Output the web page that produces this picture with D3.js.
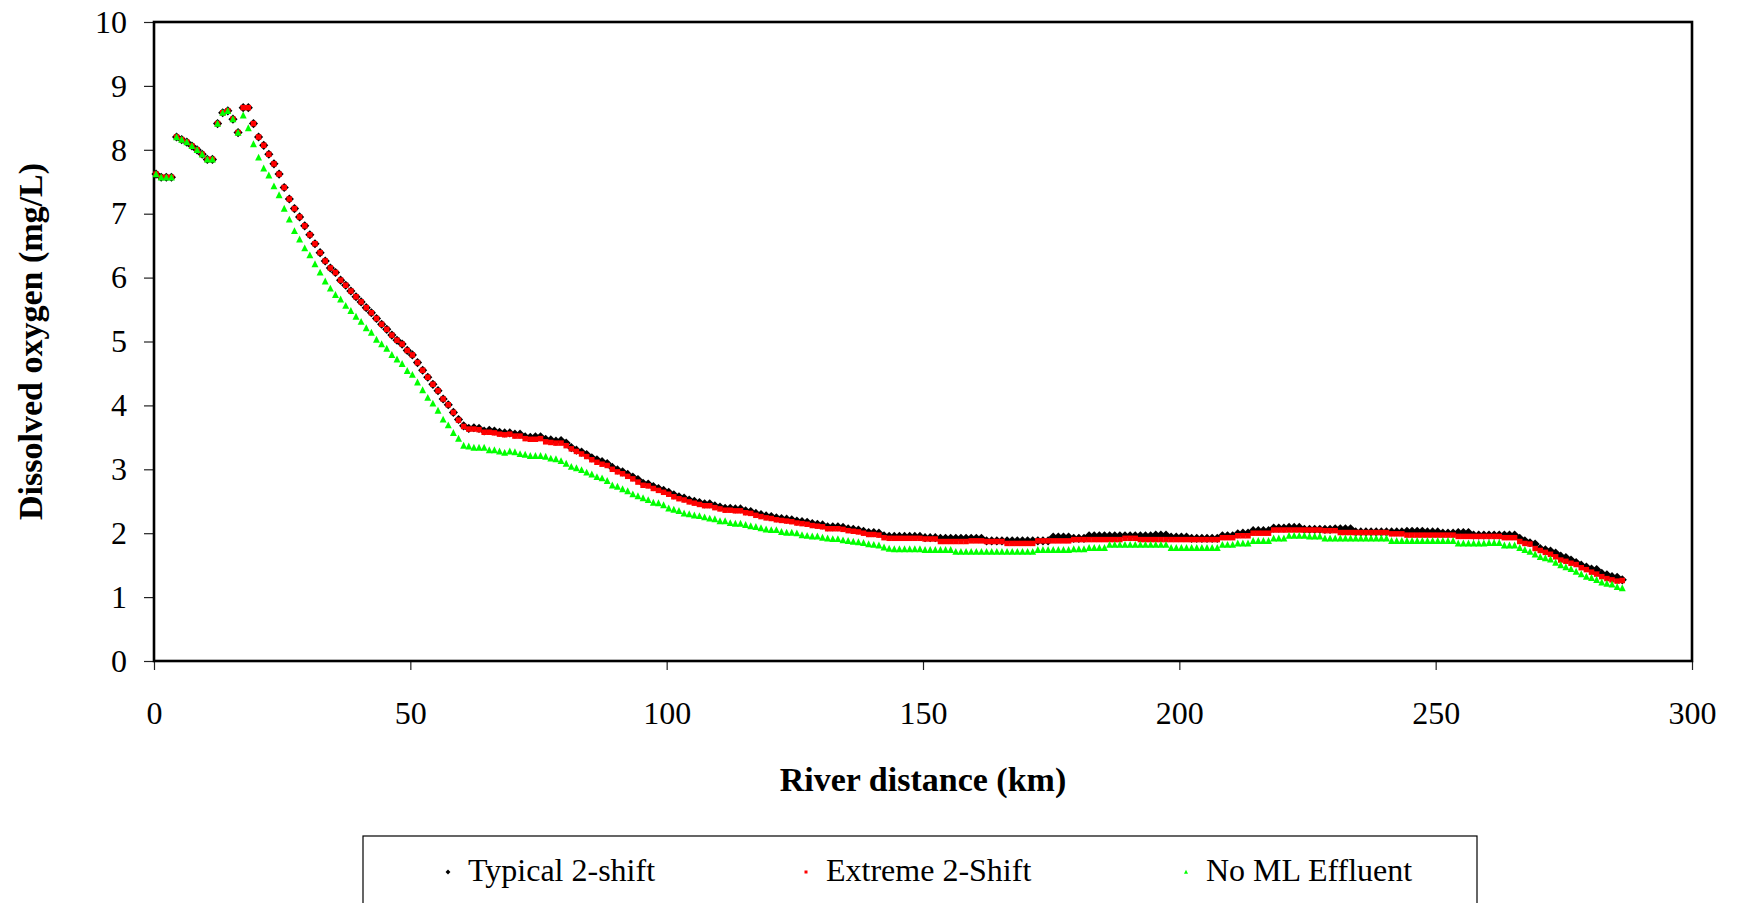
<!DOCTYPE html>
<html><head><meta charset="utf-8">
<script src="https://cdn.jsdelivr.net/npm/d3@7"></script>
<style>
body{margin:0;background:#fff;}
svg text{font-family:"Liberation Serif","Times New Roman",serif;fill:#000;}
</style>
</head><body>
<svg id="chart" width="1739" height="903"></svg>
<script>
// ---------------- data ----------------
const distanceKm = [
0.4,1.4,2.4,3.4,4.4,5.4,6.4,7.4,8.4,9.4,10.4,11.4,12.4,13.4,14.4,15.4,16.4,17.4,18.4,19.4,
20.4,21.4,22.4,23.4,24.4,25.4,26.4,27.4,28.4,29.4,30.4,31.4,32.4,33.4,34.4,35.4,36.4,37.4,38.4,39.4,
40.4,41.4,42.4,43.4,44.4,45.4,46.4,47.4,48.4,49.4,50.4,51.4,52.4,53.4,54.4,55.4,56.4,57.4,58.4,59.4,
60.4,61.4,62.4,63.4,64.4,65.4,66.4,67.4,68.4,69.4,70.4,71.4,72.4,73.4,74.4,75.4,76.4,77.4,78.4,79.4,
80.4,81.4,82.4,83.4,84.4,85.4,86.4,87.4,88.4,89.4,90.4,91.4,92.4,93.4,94.4,95.4,96.4,97.4,98.4,99.4,
100.4,101.4,102.4,103.4,104.4,105.4,106.4,107.4,108.4,109.4,110.4,111.4,112.4,113.4,114.4,115.4,116.4,117.4,118.4,119.4,
120.4,121.4,122.4,123.4,124.4,125.4,126.4,127.4,128.4,129.4,130.4,131.4,132.4,133.4,134.4,135.4,136.4,137.4,138.4,139.4,
140.4,141.4,142.4,143.4,144.4,145.4,146.4,147.4,148.4,149.4,150.4,151.4,152.4,153.4,154.4,155.4,156.4,157.4,158.4,159.4,
160.4,161.4,162.4,163.4,164.4,165.4,166.4,167.4,168.4,169.4,170.4,171.4,172.4,173.4,174.4,175.4,176.4,177.4,178.4,179.4,
180.4,181.4,182.4,183.4,184.4,185.4,186.4,187.4,188.4,189.4,190.4,191.4,192.4,193.4,194.4,195.4,196.4,197.4,198.4,199.4,
200.4,201.4,202.4,203.4,204.4,205.4,206.4,207.4,208.4,209.4,210.4,211.4,212.4,213.4,214.4,215.4,216.4,217.4,218.4,219.4,
220.4,221.4,222.4,223.4,224.4,225.4,226.4,227.4,228.4,229.4,230.4,231.4,232.4,233.4,234.4,235.4,236.4,237.4,238.4,239.4,
240.4,241.4,242.4,243.4,244.4,245.4,246.4,247.4,248.4,249.4,250.4,251.4,252.4,253.4,254.4,255.4,256.4,257.4,258.4,259.4,
260.4,261.4,262.4,263.4,264.4,265.4,266.4,267.4,268.4,269.4,270.4,271.4,272.4,273.4,274.4,275.4,276.4,277.4,278.4,279.4,
280.4,281.4,282.4,283.4,284.4,285.4,286.4
];

const typical2Shift = [
7.62,7.57,7.57,7.57,8.20,8.16,8.12,8.06,8.00,7.93,
7.85,7.85,8.41,8.58,8.61,8.48,8.27,8.66,8.66,8.41,
8.20,8.07,7.93,7.78,7.62,7.41,7.23,7.08,6.95,6.81,
6.67,6.53,6.39,6.26,6.15,6.08,5.96,5.88,5.79,5.70,
5.62,5.53,5.45,5.36,5.27,5.19,5.10,5.02,4.96,4.86,
4.79,4.67,4.55,4.44,4.33,4.23,4.10,4.01,3.89,3.78,
3.68,3.64,3.65,3.64,3.60,3.61,3.60,3.58,3.57,3.57,
3.55,3.55,3.51,3.50,3.51,3.51,3.47,3.46,3.44,3.45,
3.41,3.34,3.30,3.27,3.23,3.18,3.15,3.12,3.09,3.03,
2.99,2.96,2.92,2.88,2.84,2.78,2.77,2.73,2.70,2.67,
2.64,2.60,2.57,2.55,2.52,2.50,2.48,2.46,2.46,2.43,
2.41,2.39,2.39,2.38,2.38,2.35,2.34,2.31,2.29,2.27,
2.26,2.24,2.23,2.22,2.21,2.19,2.18,2.17,2.15,2.14,
2.13,2.10,2.10,2.10,2.09,2.07,2.06,2.05,2.03,2.01,
2.01,2.00,1.96,1.95,1.95,1.95,1.95,1.95,1.95,1.95,
1.93,1.93,1.93,1.92,1.92,1.92,1.92,1.92,1.92,1.92,
1.92,1.92,1.88,1.88,1.88,1.88,1.88,1.88,1.88,1.88,
1.88,1.88,1.88,1.88,1.88,1.94,1.94,1.94,1.94,1.92,
1.92,1.92,1.96,1.96,1.96,1.96,1.96,1.96,1.96,1.96,
1.96,1.96,1.96,1.96,1.96,1.97,1.97,1.97,1.94,1.94,
1.94,1.94,1.92,1.92,1.92,1.92,1.92,1.92,1.96,1.96,
1.96,1.99,2.00,2.00,2.04,2.04,2.04,2.04,2.08,2.08,
2.08,2.09,2.09,2.09,2.06,2.06,2.06,2.06,2.06,2.06,
2.07,2.07,2.07,2.07,2.02,2.02,2.02,2.02,2.02,2.02,
2.02,2.02,2.02,2.02,2.03,2.03,2.03,2.03,2.02,2.02,
2.02,2.00,2.00,2.00,2.01,2.01,2.01,1.97,1.97,1.97,
1.97,1.97,1.97,1.97,1.97,1.97,1.92,1.88,1.85,1.83,
1.76,1.74,1.72,1.69,1.64,1.62,1.58,1.54,1.50,1.47,
1.44,1.43,1.37,1.35,1.32,1.31,1.27
];

const extreme2Shift = [
7.62,7.57,7.57,7.57,8.20,8.16,8.12,8.06,8.00,7.93,
7.85,7.85,8.41,8.58,8.61,8.48,8.27,8.66,8.66,8.41,
8.20,8.07,7.93,7.78,7.62,7.41,7.23,7.08,6.95,6.81,
6.67,6.53,6.39,6.26,6.15,6.08,5.96,5.88,5.79,5.70,
5.62,5.53,5.45,5.36,5.27,5.19,5.10,5.02,4.96,4.86,
4.79,4.67,4.55,4.44,4.33,4.23,4.10,4.01,3.89,3.77,
3.67,3.63,3.63,3.62,3.58,3.58,3.57,3.55,3.54,3.55,
3.52,3.52,3.48,3.47,3.47,3.48,3.43,3.42,3.41,3.41,
3.37,3.32,3.28,3.24,3.20,3.15,3.11,3.08,3.06,3.00,
2.96,2.93,2.89,2.85,2.80,2.75,2.74,2.70,2.67,2.64,
2.61,2.57,2.54,2.52,2.49,2.47,2.45,2.43,2.43,2.40,
2.38,2.36,2.36,2.35,2.35,2.32,2.31,2.28,2.26,2.24,
2.23,2.21,2.20,2.19,2.18,2.16,2.15,2.14,2.12,2.11,
2.10,2.07,2.07,2.07,2.06,2.04,2.03,2.02,2.00,1.98,
1.98,1.97,1.93,1.92,1.92,1.92,1.92,1.92,1.92,1.92,
1.91,1.91,1.91,1.87,1.87,1.87,1.87,1.87,1.87,1.88,
1.88,1.88,1.87,1.87,1.87,1.87,1.84,1.84,1.84,1.84,
1.84,1.84,1.88,1.88,1.88,1.88,1.88,1.88,1.88,1.90,
1.90,1.90,1.90,1.90,1.90,1.90,1.90,1.90,1.90,1.92,
1.92,1.92,1.90,1.90,1.90,1.90,1.90,1.90,1.90,1.90,
1.90,1.90,1.90,1.90,1.90,1.90,1.90,1.90,1.93,1.93,
1.93,1.96,1.96,1.96,2.00,2.00,2.00,2.00,2.05,2.05,
2.05,2.05,2.05,2.05,2.05,2.05,2.05,2.05,2.04,2.04,
2.04,2.01,2.01,2.01,2.01,2.01,2.01,2.01,2.01,2.01,
2.01,1.99,1.99,1.99,1.97,1.97,1.97,1.97,1.97,1.97,
1.97,1.97,1.97,1.97,1.95,1.95,1.95,1.95,1.95,1.95,
1.95,1.95,1.95,1.93,1.93,1.93,1.87,1.84,1.83,1.76,
1.73,1.70,1.67,1.63,1.58,1.56,1.53,1.51,1.46,1.43,
1.39,1.36,1.32,1.29,1.27,1.25,1.26
];

const noMLEffluent = [
7.62,7.57,7.57,7.57,8.20,8.16,8.12,8.06,8.00,7.93,
7.85,7.85,8.41,8.58,8.61,8.48,8.27,8.54,8.34,8.09,
7.88,7.71,7.60,7.43,7.29,7.08,6.91,6.73,6.60,6.46,
6.35,6.21,6.08,5.94,5.83,5.73,5.66,5.56,5.48,5.39,
5.31,5.21,5.14,5.03,4.96,4.89,4.79,4.72,4.65,4.54,
4.48,4.36,4.24,4.12,4.03,3.92,3.78,3.69,3.57,3.48,
3.37,3.36,3.34,3.34,3.34,3.30,3.30,3.28,3.26,3.28,
3.27,3.24,3.23,3.21,3.21,3.21,3.20,3.17,3.16,3.13,
3.09,3.04,3.02,2.99,2.95,2.92,2.88,2.86,2.82,2.75,
2.73,2.69,2.66,2.61,2.58,2.55,2.52,2.48,2.47,2.44,
2.39,2.37,2.35,2.31,2.30,2.28,2.27,2.25,2.23,2.22,
2.19,2.19,2.16,2.15,2.15,2.13,2.11,2.10,2.08,2.06,
2.05,2.05,2.02,2.01,2.01,2.00,1.97,1.96,1.95,1.95,
1.93,1.92,1.91,1.91,1.89,1.88,1.87,1.86,1.85,1.83,
1.82,1.81,1.78,1.76,1.75,1.75,1.75,1.75,1.75,1.75,
1.74,1.74,1.74,1.74,1.74,1.74,1.71,1.71,1.71,1.71,
1.71,1.71,1.71,1.71,1.71,1.71,1.71,1.71,1.71,1.71,
1.71,1.71,1.74,1.74,1.74,1.74,1.74,1.74,1.74,1.75,
1.75,1.75,1.77,1.77,1.77,1.77,1.82,1.82,1.82,1.82,
1.82,1.82,1.82,1.82,1.82,1.82,1.82,1.82,1.77,1.77,
1.77,1.77,1.77,1.77,1.77,1.77,1.77,1.77,1.82,1.82,
1.82,1.84,1.84,1.84,1.88,1.88,1.88,1.88,1.92,1.92,
1.92,1.96,1.96,1.96,1.96,1.95,1.95,1.95,1.92,1.92,
1.92,1.92,1.92,1.92,1.92,1.92,1.92,1.92,1.92,1.92,
1.92,1.88,1.88,1.88,1.88,1.88,1.88,1.88,1.88,1.88,
1.88,1.88,1.88,1.88,1.84,1.84,1.84,1.84,1.84,1.84,
1.85,1.85,1.85,1.81,1.81,1.81,1.77,1.74,1.71,1.67,
1.63,1.61,1.59,1.54,1.50,1.47,1.44,1.40,1.36,1.32,
1.30,1.27,1.23,1.21,1.20,1.16,1.14
];

const seriesNames = ["Typical 2-shift", "Extreme 2-Shift", "No ML Effluent"];
const xTickValues = [0, 50, 100, 150, 200, 250, 300];
const yTickValues = [0, 1, 2, 3, 4, 5, 6, 7, 8, 9, 10];
const xTitle = "River distance (km)";
const yTitle = "Dissolved oxygen (mg/L)";

// ---------------- drawing ----------------
const svg = d3.select("#chart");
const P = {left: 154, right: 1692, top: 22, bottom: 661};
const x = d3.scaleLinear().domain([0, 300]).range([P.left, P.right]);
const y = d3.scaleLinear().domain([0, 10]).range([P.bottom, P.top]);

const diamondType = {draw(ctx, size) {const r = Math.sqrt(size / 2); ctx.moveTo(0, -r); ctx.lineTo(r, 0); ctx.lineTo(0, r); ctx.lineTo(-r, 0); ctx.closePath();}};
const squareType = {draw(ctx, size) {const s = Math.sqrt(size) / 2; ctx.rect(-s, -s, 2 * s, 2 * s);}};
const triangleType = {draw(ctx, size) {const a = Math.sqrt(size); ctx.moveTo(0, -a * 0.55); ctx.lineTo(a / 2, a * 0.45); ctx.lineTo(-a / 2, a * 0.45); ctx.closePath();}};

const series = [
  {name: seriesNames[0], values: typical2Shift, type: diamondType, size: 42, legSize: 12, color: "#000000"},
  {name: seriesNames[1], values: extreme2Shift, type: squareType, size: 30, legSize: 9, color: "#ff0000"},
  {name: seriesNames[2], values: noMLEffluent, type: triangleType, size: 48, legSize: 16, color: "#00ff00"}
];

// axes
const gx = svg.append("g").attr("transform", `translate(0,${P.bottom})`)
  .call(d3.axisBottom(x).tickValues(xTickValues).tickSize(9).tickPadding(31).tickFormat(d3.format("d")));
const gy = svg.append("g").attr("transform", `translate(${P.left},0)`)
  .call(d3.axisLeft(y).tickValues(yTickValues).tickSize(10).tickPadding(17).tickFormat(d3.format("d")));
[gx, gy].forEach(g => {
  g.select(".domain").remove();
  g.selectAll(".tick line").attr("stroke", "#222").attr("stroke-width", 1.2);
  g.selectAll(".tick text").style("font-size", "32px").attr("fill", "#000");
});

// plot frame
svg.append("rect").attr("x", P.left).attr("y", P.top)
  .attr("width", P.right - P.left).attr("height", P.bottom - P.top)
  .attr("fill", "none").attr("stroke", "#000").attr("stroke-width", 2.6);

// points
const plot = svg.append("g");
series.forEach(s => {
  plot.append("g").selectAll("path").data(s.values).join("path")
    .attr("transform", (d, i) => `translate(${x(distanceKm[i])},${y(d)})`)
    .attr("d", d3.symbol().type(s.type).size(s.size)())
    .attr("fill", s.color);
});

// axis titles
svg.append("text").attr("x", (P.left + P.right) / 2).attr("y", 791)
  .attr("text-anchor", "middle").style("font-size", "34px").style("font-weight", "bold")
  .text(xTitle);
svg.append("text").attr("transform", `translate(42,${(P.top + P.bottom) / 2}) rotate(-90)`)
  .attr("text-anchor", "middle").style("font-size", "34px").style("font-weight", "bold")
  .text(yTitle);

// legend
const legend = svg.append("g");
legend.append("rect").attr("x", 363).attr("y", 836).attr("width", 1114).attr("height", 100)
  .attr("fill", "#fff").attr("stroke", "#000").attr("stroke-width", 1.2);
const legX = [448, 806, 1186];
series.forEach((s, i) => {
  legend.append("path").attr("transform", `translate(${legX[i]},872)`)
    .attr("d", d3.symbol().type(s.type).size(s.legSize)()).attr("fill", s.color);
  legend.append("text").attr("x", legX[i] + 20).attr("y", 881)
    .style("font-size", "32px").text(s.name);
});
</script>
</body></html>
